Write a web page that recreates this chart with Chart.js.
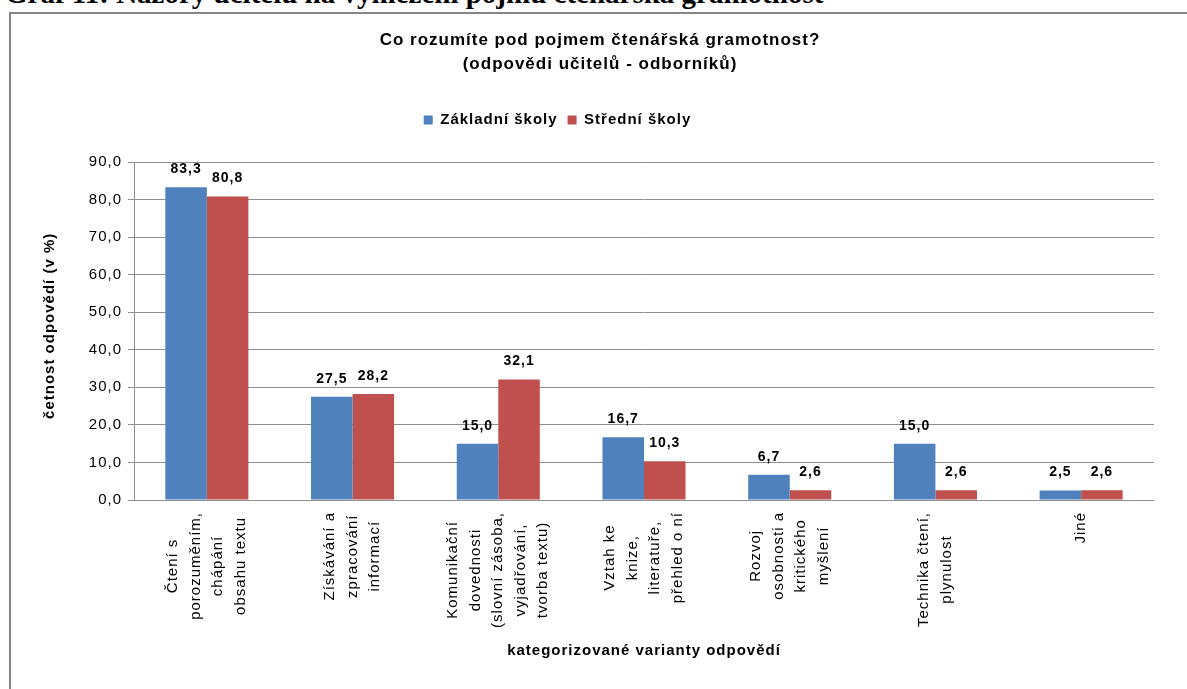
<!DOCTYPE html>
<html>
<head>
<meta charset="utf-8">
<script src="https://cdn.jsdelivr.net/npm/chart.js@4.4.0/dist/chart.umd.min.js"></script>
<style>
    body { margin: 0; width: 1187px; height: 689px; overflow: hidden; position: relative; background: #fff; }
    #caption {
        position: absolute; left: 5px; top: -23px; white-space: nowrap;
        font: bold 29px/32px "Liberation Serif", "Times New Roman", serif; color: #000;
    }
    #frame {
        position: absolute; left: 9px; top: 12px; width: 1190px; height: 690px;
        border-left: 2px solid #868686; border-top: 2px solid #868686; background: #fff;
    }
    #frame canvas { position: absolute; left: 0; top: 0; }
</style>
</head>
<body>
<div id="caption">Graf 11: Názory učitelů na vymezení pojmu čtenářská gramotnost</div>
<div id="frame">
    <canvas id="chart" width="1176" height="675" style="width:1176px;height:675px"></canvas>
</div>
<script>
const categories = [
    ['Čtení s', 'porozuměním,', 'chápání', 'obsahu textu'],
    ['Získávání a', 'zpracování', 'informací'],
    ['Komunikační', 'dovednosti', '(slovní zásoba,', 'vyjadřování,', 'tvorba textu)'],
    ['Vztah ke', 'knize,', 'literatuře,', 'přehled o ní'],
    ['Rozvoj', 'osobnosti a', 'kritického', 'myšlení'],
    ['Technika čtení,', 'plynulost'],
    ['Jiné']
];
const zakladniSkoly = [83.3, 27.5, 15.0, 16.7, 6.7, 15.0, 2.5];
const stredniSkoly = [80.8, 28.2, 32.1, 10.3, 2.6, 2.6, 2.6];
const seriesNames = ['Základní školy', 'Střední školy'];
const titleLines = ['Co rozumíte pod pojmem čtenářská gramotnost?', '(odpovědi učitelů - odborníků)'];
const yTitle = 'četnost odpovědí (v %)';
const xTitle = 'kategorizované varianty odpovědí';

const FONT = '"Liberation Sans", Arial, sans-serif';
const fmt = v => v.toFixed(1).replace('.', ',');

// Excel renders the text a bit wider, so add some letter spacing everywhere
const spacingPlugin = {
    id: 'spacing',
    beforeLayout(chart) { chart.ctx.letterSpacing = '1px'; },
    beforeDraw(chart) { chart.ctx.letterSpacing = '1px'; },
    afterLayout(chart) {
        // title sits over the whole frame, legend a bit left of centre
        chart.titleBlock.left += 17.5;
        chart.titleBlock.right += 17.5;
        chart.legend.left -= 25;
        chart.legend.right -= 25;
    }
};

const valueLabels = {
    id: 'valueLabels',
    afterDatasetsDraw(chart) {
        const ctx = chart.ctx;
        ctx.save();
        ctx.font = 'bold 14px ' + FONT;
        ctx.fillStyle = '#000';
        ctx.textAlign = 'center';
        ctx.textBaseline = 'middle';
        chart.data.datasets.forEach((ds, di) => {
            chart.getDatasetMeta(di).data.forEach((bar, i) => {
                ctx.fillText(fmt(ds.data[i]), bar.x, bar.y - 18);
            });
        });
        ctx.restore();
    }
};

// rotated, centred multi-line category labels
const categoryLabels = {
    id: 'categoryLabels',
    afterDraw(chart) {
        const ctx = chart.ctx;
        const xs = chart.scales.x;
        ctx.save();
        ctx.font = '15px ' + FONT;
        ctx.fillStyle = '#000';
        ctx.textAlign = 'center';
        ctx.textBaseline = 'middle';
        categories.forEach((lines, i) => {
            const cx = xs.getPixelForValue(i);
            const maxW = Math.max(...lines.map(l => ctx.measureText(l).width));
            const cy = xs.top + 12 + maxW / 2;
            lines.forEach((line, j) => {
                const lx = cx + (j - (lines.length - 1) / 2) * 22.5;
                ctx.save();
                ctx.translate(lx, cy);
                ctx.rotate(-Math.PI / 2);
                ctx.fillText(line, 0, 0);
                ctx.restore();
            });
        });
        ctx.restore();
    }
};

new Chart(document.getElementById('chart'), {
    type: 'bar',
    data: {
        labels: categories,
        datasets: [
            { label: seriesNames[0], data: zakladniSkoly, backgroundColor: '#4F81BD', borderWidth: 0 },
            { label: seriesNames[1], data: stredniSkoly, backgroundColor: '#C0504D', borderWidth: 0 }
        ]
    },
    options: {
        responsive: false,
        animation: false,
        layout: { padding: { left: 0, right: 33, top: 0, bottom: 0 } },
        datasets: { bar: { categoryPercentage: 0.57, barPercentage: 1 } },
        plugins: {
            title: {
                display: true,
                text: titleLines,
                color: '#000',
                font: { family: FONT, size: 17, weight: 'bold', lineHeight: '24px' },
                padding: { top: 14, bottom: 26.5 }
            },
            subtitle: {
                display: true,
                text: '',
                weight: 500,
                font: { size: 10, lineHeight: '24.5px' },
                padding: 0
            },
            legend: {
                position: 'top',
                labels: {
                    color: '#000',
                    font: { family: FONT, size: 15, weight: 'bold' },
                    boxWidth: 9,
                    boxHeight: 9,
                    padding: 10
                }
            },
            tooltip: { enabled: false }
        },
        scales: {
            x: {
                grid: { display: false },
                border: { display: false },
                ticks: { display: false },
                title: {
                    display: true,
                    text: xTitle,
                    color: '#000',
                    font: { family: FONT, size: 15, weight: 'bold' },
                    padding: { top: 0, bottom: 29 }
                },
                afterFit: scale => { scale.height = 189; }
            },
            y: {
                min: 0,
                max: 90,
                ticks: {
                    stepSize: 10,
                    color: '#000',
                    padding: 6,
                    font: { family: FONT, size: 15 },
                    callback: v => fmt(v)
                },
                grid: { color: '#8e8e8e', lineWidth: 1, tickLength: 6 },
                border: { color: '#8e8e8e', width: 1 },
                title: {
                    display: true,
                    // leading spaces nudge the rotated title a little upwards
                    text: '  ' + yTitle,
                    color: '#000',
                    font: { family: FONT, size: 15, weight: 'bold' },
                    padding: { top: 30, bottom: 0 }
                },
                afterFit: scale => { scale.width = 123; }
            }
        }
    },
    plugins: [spacingPlugin, valueLabels, categoryLabels]
});
</script>
</body>
</html>
